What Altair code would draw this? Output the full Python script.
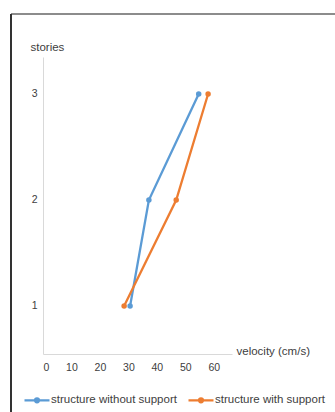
import altair as alt
import pandas as pd

stories = [1, 2, 3]
without_support = [30.6, 37.2, 54.7]
with_support = [28.5, 46.8, 58.0]
series_names = ["structure without support", "structure with support"]
x_ticks = [0, 10, 20, 30, 40, 50, 60]
y_ticks = [1, 2, 3]

rows = []
for s, v in zip(stories, without_support):
    rows.append({"series": series_names[0], "stories": s, "velocity": v})
for s, v in zip(stories, with_support):
    rows.append({"series": series_names[1], "stories": s, "velocity": v})
df = pd.DataFrame(rows)

FONT = "Liberation Sans"
color_scale = alt.Scale(domain=series_names, range=["#5B9BD5", "#ED7D31"])

legend_symbol = "M-1,0H1M-0.16,0A0.16,0.16 0 1,0 0.16,0A0.16,0.16 0 1,0 -0.16,0"

base = alt.Chart(df).encode(
    x=alt.X("velocity:Q",
            scale=alt.Scale(domain=[0, 66.4], nice=False, zero=False),
            axis=alt.Axis(values=x_ticks, title="velocity (cm/s)", grid=False,
                          ticks=False, tickSize=0, domainColor="#d9d9d9",
                          labelColor="#404040", labelFont=FONT, labelFontSize=10.5,
                          labelPadding=8, titleFont=FONT, titleFontSize=11.5,
                          titleFontWeight="normal", titleColor="#404040",
                          titleAngle=0, titleX=193, titleY=-3,
                          titleAlign="left", titleBaseline="middle")),
    y=alt.Y("stories:Q",
            scale=alt.Scale(domain=[0.547, 3.349], nice=False, zero=False),
            axis=alt.Axis(values=y_ticks, title="stories", grid=False,
                          ticks=False, tickSize=0, domainColor="#d9d9d9",
                          labelColor="#404040", labelFont=FONT, labelFontSize=10.5,
                          labelPadding=6, titleFont=FONT, titleFontSize=11.5,
                          titleFontWeight="normal", titleColor="#404040",
                          titleAngle=0, titleX=-13, titleY=-5,
                          titleAlign="left", titleBaseline="bottom")),
    color=alt.Color("series:N", scale=color_scale,
                    legend=alt.Legend(title=None, orient="none", direction="horizontal",
                                      legendX=-20, legendY=329,
                                      symbolType=legend_symbol, symbolSize=625,
                                      symbolStrokeWidth=2.2, labelFont=FONT,
                                      labelFontSize=11.5, labelColor="#404040",
                                      labelOffset=0, columnPadding=7)),
    order=alt.Order("stories:Q"),
)

lines = base.mark_line(strokeWidth=2.3, point=alt.OverlayMarkDef(filled=True, size=30))

frame_top = alt.Chart(df).mark_rule(color="#8c8c8c", strokeWidth=1.5).encode(
    x=alt.value(-32), x2=alt.value(300), y=alt.value(-43))
frame_left = alt.Chart(df).mark_rule(color="#333333", strokeWidth=1.2).encode(
    x=alt.value(-32), y=alt.value(-43), y2=alt.value(360))

chart = alt.layer(frame_top, frame_left, lines).properties(
    width=189, height=297,
    background="white",
    autosize=alt.AutoSizeParams(type="none"),
    padding={"left": 43, "top": 57, "right": 103, "bottom": 58},
).configure_view(strokeWidth=0, stroke="transparent")

chart.save("out.html", embed_options={"renderer": "svg", "actions": False})
